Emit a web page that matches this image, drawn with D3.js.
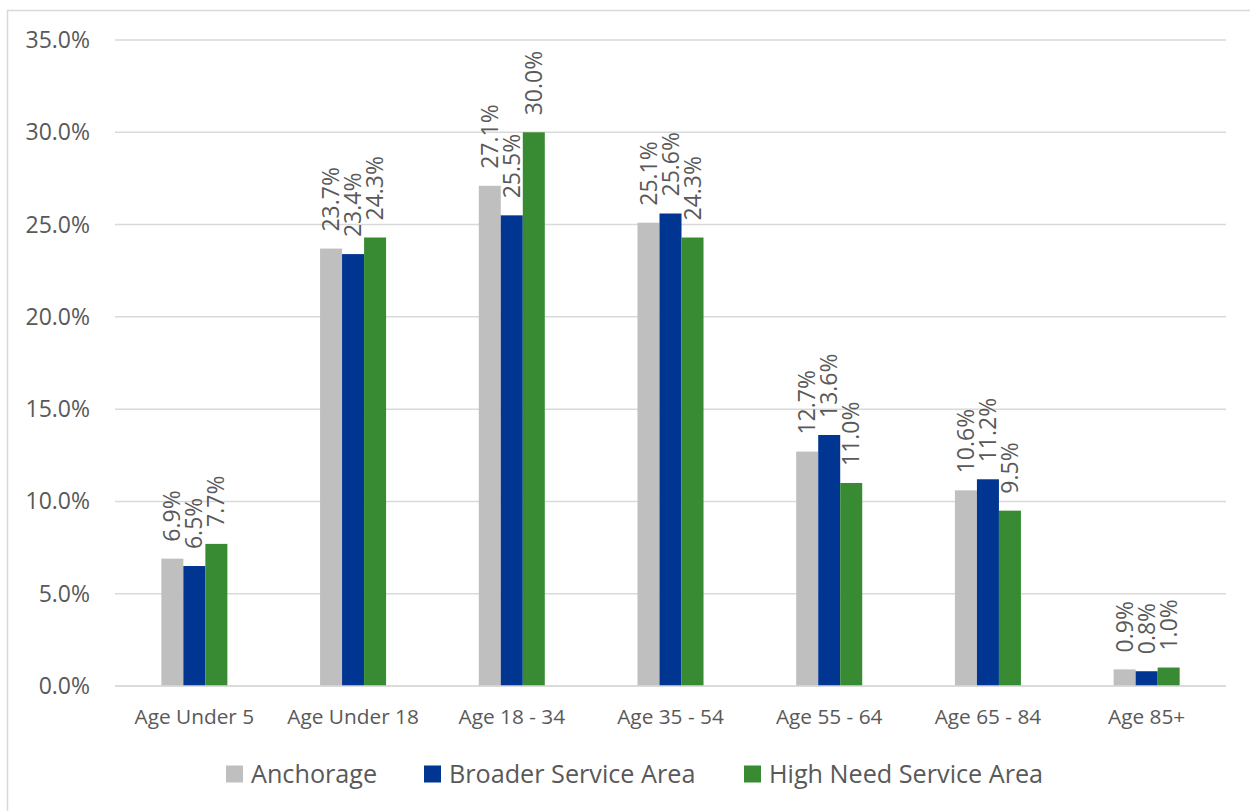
<!DOCTYPE html>
<html><head><meta charset="utf-8">
<script src="https://cdn.jsdelivr.net/npm/d3@7"></script>
<style>
html,body{margin:0;padding:0;background:#fff;}
svg{display:block;font-family:"Open Sans",sans-serif;}
</style></head>
<body>
<svg id="chart" width="1250" height="811"></svg>
<script>
const categories = ["Age Under 5","Age Under 18","Age 18 - 34","Age 35 - 54","Age 55 - 64","Age 65 - 84","Age 85+"];
const seriesNames = ["Anchorage","Broader Service Area","High Need Service Area"];
const anchorage = [6.9, 23.7, 27.1, 25.1, 12.7, 10.6, 0.9];
const broader = [6.5, 23.4, 25.5, 25.6, 13.6, 11.2, 0.8];
const highNeed = [7.7, 24.3, 30.0, 24.3, 11.0, 9.5, 1.0];
const yTicks = [0, 5, 10, 15, 20, 25, 30, 35];
const colors = ["#BFBFBF", "#003591", "#388B32"];

const seriesValues = [anchorage, broader, highNeed];
const svg = d3.select("#chart");
const textColor = "#595959";

// outer border
svg.append("rect").attr("x",7.5).attr("y",10.5).attr("width",1260).attr("height",820)
  .attr("fill","none").attr("stroke","#D9D9D9").attr("stroke-width",1.5);

const plotL = 115, plotR = 1226, plotT = 40, plotB = 686;
const y = d3.scaleLinear().domain([0,35]).range([plotB, plotT]);
const x0 = d3.scaleBand().domain(categories).range([plotL, plotR]).paddingInner(0.584).paddingOuter(0.292);
const x1 = d3.scaleBand().domain(seriesNames).range([0, x0.bandwidth()]);

// gridlines
svg.append("g").selectAll("line").data(yTicks).join("line")
  .attr("x1",plotL).attr("x2",plotR)
  .attr("y1",d=>y(d)).attr("y2",d=>y(d))
  .attr("stroke","#D9D9D9").attr("stroke-width",1.5);

// y labels
svg.append("g").selectAll("text").data(yTicks).join("text")
  .attr("x",90).attr("y",d=>y(d)).attr("dy","0.35em")
  .attr("text-anchor","end").attr("fill",textColor).attr("font-size",23)
  .text(d=>d3.format(".1f")(d)+"%");

// bars
const groups = svg.append("g").selectAll("g").data(categories).join("g")
  .attr("transform",c=>`translate(${x0(c)},0)`);

groups.selectAll("rect").data((c,i)=>seriesNames.map((s,j)=>({s, v:seriesValues[j][i], j})))
  .join("rect")
  .attr("x",d=>x1(d.s)).attr("width",x1.bandwidth())
  .attr("y",d=>y(d.v)).attr("height",d=>y(0)-y(d.v))
  .attr("fill",d=>colors[d.j]);

// zero line on top
svg.append("line").attr("x1",plotL).attr("x2",plotR).attr("y1",y(0)).attr("y2",y(0))
  .attr("stroke","#D9D9D9").attr("stroke-width",1.5);

// data labels
groups.selectAll("text.lbl").data((c,i)=>seriesNames.map((s,j)=>({s, v:seriesValues[j][i], j})))
  .join("text").attr("class","lbl")
  .attr("transform",d=>`translate(${x1(d.s)+x1.bandwidth()/2},${y(d.v)-17}) rotate(-90)`)
  .attr("dy","0.35em").attr("text-anchor","start")
  .attr("fill",textColor).attr("font-size",23)
  .text(d=>d3.format(".1f")(d.v)+"%");

// x labels
svg.append("g").selectAll("text").data(categories).join("text")
  .attr("x",c=>x0(c)+x0.bandwidth()/2).attr("y",717).attr("dy","0.35em")
  .attr("text-anchor","middle").attr("fill",textColor).attr("font-size",20.8)
  .text(c=>c);

// legend
const legendX = [226, 424, 744];
const lg = svg.append("g").selectAll("g").data(seriesNames).join("g")
  .attr("transform",(d,i)=>`translate(${legendX[i]},774)`);
lg.append("rect").attr("x",0).attr("y",-8.5).attr("width",17).attr("height",17)
  .attr("fill",(d,i)=>colors[i]);
lg.append("text").attr("x",25).attr("y",0).attr("dy","0.35em")
  .attr("fill",textColor).attr("font-size",25.2).text(d=>d);
</script>
</body></html>
